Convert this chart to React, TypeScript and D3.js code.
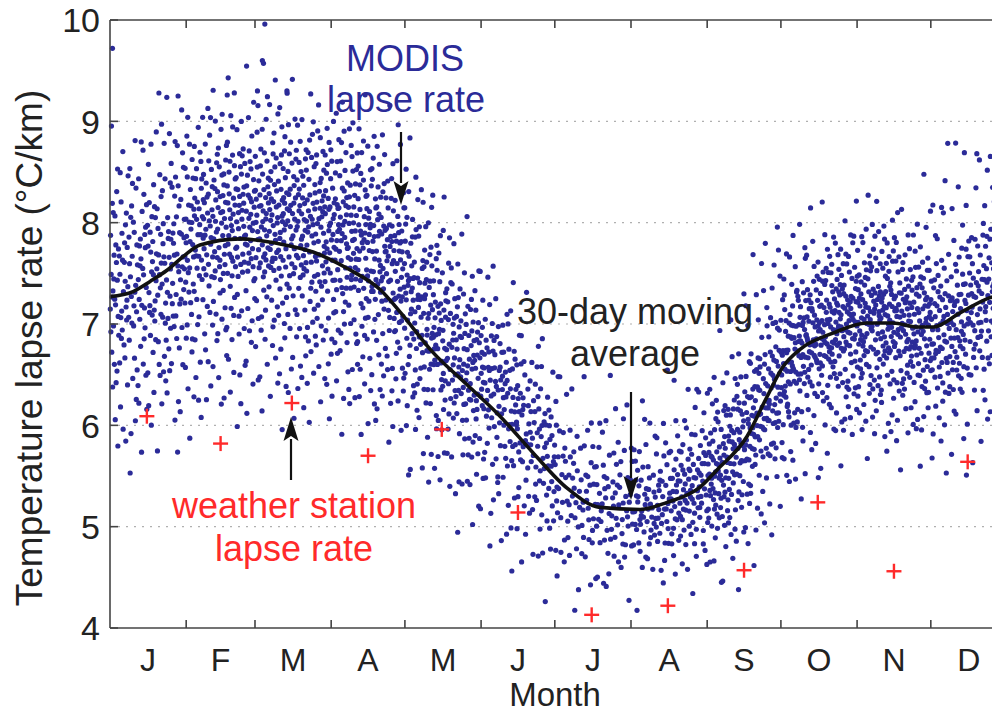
import React from "react";
import * as d3 from "d3";

// ---------- data ----------
const MONTH_LABELS = ["J", "F", "M", "A", "M", "J", "J", "A", "S", "O", "N", "D"];
const MONTH_STARTS = [0, 31, 59, 90, 120, 151, 181, 212, 243, 273, 304, 334, 365];
const Y_TICKS = [4, 5, 6, 7, 8, 9, 10];
const GRID_VALUES = [5, 6, 7, 8, 9];

// 30-day moving average (day of year, °C/km)
const MA_DAY = [0, 9.4, 16.3, 23.2, 30.5, 36.6, 52.9, 69.2, 82.6, 96.4, 109.9, 118, 131.4, 145.3, 158.7, 172.1, 186, 199.4, 215.7, 226.7, 240.1, 247, 259.2, 267.3, 273.9, 280.8, 294.2, 308, 318.6, 328.4, 334.9, 345.9, 358.1, 365];
const MA_VAL = [7.27, 7.32, 7.42, 7.53, 7.68, 7.78, 7.84, 7.79, 7.71, 7.55, 7.34, 7.12, 6.72, 6.4, 6.09, 5.73, 5.38, 5.19, 5.17, 5.24, 5.39, 5.56, 5.89, 6.28, 6.58, 6.75, 6.91, 7.01, 7.01, 6.97, 6.97, 7.11, 7.26, 7.3];

// weather station monthly lapse rate
const STATION_DAY = [15, 45, 74, 105, 135, 166, 196, 227, 258, 288, 319, 349];
const STATION_VAL = [6.09, 5.82, 6.22, 5.7, 5.96, 5.14, 4.13, 4.22, 4.57, 5.24, 4.56, 5.64];

// MODIS daily lapse rate cloud, summarised per half month (point count and quantiles)
const BIN_COUNT = [120, 130, 150, 160, 170, 170, 170, 165, 150, 140, 120, 100, 70, 75, 90, 110, 140, 150, 160, 170, 170, 160, 140, 130];
const Q02 = [5.8, 6.0, 6.2, 6.3, 6.3, 6.3, 6.2, 6.0, 5.6, 5.2, 4.9, 4.6, 4.4, 4.4, 4.5, 4.55, 4.6, 5.0, 5.6, 5.9, 5.9, 5.9, 5.7, 6.0];
const Q10 = [6.3, 6.5, 6.8, 6.9, 6.9, 6.8, 6.7, 6.5, 6.1, 5.7, 5.4, 5.0, 4.7, 4.7, 4.8, 4.85, 5.0, 5.5, 6.1, 6.3, 6.3, 6.3, 6.3, 6.5];
const Q25 = [6.9, 7.0, 7.4, 7.5, 7.5, 7.4, 7.3, 7.1, 6.6, 6.2, 5.9, 5.4, 5.0, 4.95, 5.0, 5.1, 5.3, 5.9, 6.5, 6.7, 6.7, 6.65, 6.6, 6.9];
const Q50 = [7.4, 7.5, 7.9, 7.95, 7.95, 7.9, 7.8, 7.6, 7.0, 6.6, 6.3, 5.8, 5.3, 5.2, 5.2, 5.35, 5.6, 6.2, 6.8, 7.0, 7.05, 7.0, 6.95, 7.25];
const Q75 = [7.9, 8.0, 8.3, 8.35, 8.35, 8.3, 8.2, 8.0, 7.4, 7.0, 6.6, 6.1, 5.6, 5.5, 5.45, 5.6, 5.9, 6.6, 7.1, 7.3, 7.35, 7.3, 7.3, 7.6];
const Q90 = [8.4, 8.5, 8.7, 8.7, 8.75, 8.7, 8.6, 8.4, 7.8, 7.3, 6.9, 6.4, 5.9, 5.8, 5.75, 5.9, 6.2, 7.0, 7.4, 7.6, 7.7, 7.6, 7.7, 8.0];
const Q98 = [8.8, 9.0, 9.1, 9.2, 9.2, 9.0, 9.0, 8.8, 8.3, 7.7, 7.3, 6.8, 6.3, 6.2, 6.1, 6.3, 6.6, 7.8, 7.8, 7.9, 8.0, 7.95, 8.5, 8.8];

// isolated high points
const OUTLIER_DAY = [1, 27.7, 47.7, 60, 62, 63, 72];
const OUTLIER_VAL = [9.72, 9.25, 9.26, 9.3, 9.6, 9.96, 9.3];

// ---------- layout ----------
const W = 992;
const H = 713;
const X0 = 110;
const X1 = 1007;
const Y_TOP = 20;
const Y_BOT = 628;
const FONT = "'Liberation Sans', Arial, Helvetica, sans-serif";
const BLUE = "#2b2b98";
const RED = "#ff2a2a";

const x = d3.scaleLinear().domain([0, 365]).range([X0, X1]);
const y = d3.scaleLinear().domain([4, 10]).range([Y_BOT, Y_TOP]);

function halton(i: number, b: number) {
  let f = 1, r = 0;
  while (i > 0) {
    f /= b;
    r += f * (i % b);
    i = Math.floor(i / b);
  }
  return r;
}

const PROBS = [0, 0.02, 0.1, 0.25, 0.5, 0.75, 0.9, 0.98, 1];
const BIN_W = 365 / 24;

function profileAt(day: number) {
  const t = day / BIN_W - 0.5;
  const i0 = Math.floor(t);
  const f = t - i0;
  const a = (i0 + 24) % 24;
  const b = (i0 + 1 + 24) % 24;
  const lerp = (arr: number[]) => arr[a] * (1 - f) + arr[b] * f;
  const q02 = lerp(Q02);
  const q98 = lerp(Q98);
  return [q02 - 0.35, q02, lerp(Q10), lerp(Q25), lerp(Q50), lerp(Q75), lerp(Q90), q98, q98 + 0.4];
}

function buildPoints() {
  const pts: [number, number][] = [];
  let k = 1;
  BIN_COUNT.forEach((n, b) => {
    for (let i = 0; i < n; i++) {
      const day = (b + halton(k, 2)) * BIN_W;
      const p = halton(k, 3);
      const qs = profileAt(day);
      const qf = d3.scaleLinear().domain(PROBS).range(qs);
      pts.push([day, qf(p)]);
      k++;
    }
  });
  OUTLIER_DAY.forEach((d, i) => pts.push([d, OUTLIER_VAL[i]]));
  return pts.filter((p) => p[1] >= 4 && p[1] <= 10);
}

function Arrow({ x0, yFrom, yTip }: { x0: number; yFrom: number; yTip: number }) {
  const dir = yTip > yFrom ? 1 : -1;
  const len = 24;
  const hw = 7.5;
  const back = yTip - dir * len;
  const notch = yTip - dir * (len - 5);
  return (
    <g>
      <line x1={x0} x2={x0} y1={yFrom} y2={back + dir * 2} stroke="#111" strokeWidth={2.2} />
      <path d={`M${x0},${yTip} L${x0 - hw},${back} L${x0},${notch} L${x0 + hw},${back} Z`} fill="#111" />
    </g>
  );
}

export default function App() {
  const points = React.useMemo(buildPoints, []);
  const line = d3
    .line<number>()
    .x((_, i) => x(MA_DAY[i]))
    .y((v) => y(v))
    .curve(d3.curveMonotoneX);
  const maPath = line(MA_VAL) || "";

  return (
    <svg width={W} height={H} style={{ position: "absolute", left: 0, top: 0, background: "#fff" }} fontFamily={FONT}>
      <rect width={W} height={H} fill="#fff" />
      {/* grid */}
      {GRID_VALUES.map((v) => (
        <line key={v} x1={X0} x2={W} y1={y(v)} y2={y(v)} stroke="#b0b0b0" strokeWidth={1.2} strokeDasharray="2,6" />
      ))}
      {/* scatter */}
      <g fill={BLUE}>
        {points.map((p, i) => (
          <circle key={i} cx={x(p[0])} cy={y(p[1])} r={2.6} />
        ))}
      </g>
      {/* moving average */}
      <path d={maPath} fill="none" stroke="#111" strokeWidth={3.6} strokeLinejoin="round" />
      {/* weather station crosses */}
      <g stroke={RED} strokeWidth={2.4}>
        {STATION_DAY.map((d, i) => {
          const cx = x(d), cy = y(STATION_VAL[i]);
          return (
            <g key={i}>
              <line x1={cx - 7.5} x2={cx + 7.5} y1={cy} y2={cy} />
              <line x1={cx} x2={cx} y1={cy - 7.5} y2={cy + 7.5} />
            </g>
          );
        })}
      </g>
      {/* axes frame */}
      <g stroke="#444" strokeWidth={1.6} fill="none">
        <line x1={X0} x2={X0} y1={Y_TOP} y2={Y_BOT} />
        <line x1={X0} x2={W} y1={Y_BOT} y2={Y_BOT} />
        <line x1={X0} x2={W} y1={Y_TOP} y2={Y_TOP} />
        {MONTH_STARTS.slice(1, 12).map((d) => (
          <g key={d}>
            <line x1={x(d)} x2={x(d)} y1={Y_BOT} y2={Y_BOT - 8} />
            <line x1={x(d)} x2={x(d)} y1={Y_TOP} y2={Y_TOP + 8} />
          </g>
        ))}
        {Y_TICKS.map((v) => (
          <line key={v} x1={X0} x2={X0 + 8} y1={y(v)} y2={y(v)} />
        ))}
      </g>
      {/* y tick labels */}
      <g fontSize={34} fill="#222" textAnchor="end">
        {Y_TICKS.map((v) => (
          <text key={v} x={X0 - 10} y={y(v)} dy="0.36em">
            {v}
          </text>
        ))}
      </g>
      {/* month labels */}
      <g fontSize={32} fill="#222" textAnchor="middle">
        {MONTH_LABELS.map((m, i) => (
          <text key={i} x={x((MONTH_STARTS[i] + MONTH_STARTS[i + 1]) / 2)} y={671}>
            {m}
          </text>
        ))}
      </g>
      <text x={555} y={706} fontSize={33} fill="#222" textAnchor="middle">
        Month
      </text>
      <text transform="translate(42,348) rotate(-90)" fontSize={37} fill="#222" textAnchor="middle">
        Temperature lapse rate (°C/km)
      </text>
      {/* annotations */}
      <g fontSize={36} fill={BLUE} textAnchor="middle">
        <text x={405} y={71}>MODIS</text>
        <text x={406} y={112}>lapse rate</text>
      </g>
      <g fontSize={36} fill="#222" textAnchor="middle">
        <text x={635} y={324}>30-day moving</text>
        <text x={635} y={366}>average</text>
      </g>
      <g fontSize={36} fill={RED} textAnchor="middle">
        <text x={294} y={518}>weather station</text>
        <text x={294} y={561}>lapse rate</text>
      </g>
      <Arrow x0={401} yFrom={132} yTip={205} />
      <Arrow x0={631} yFrom={392} yTip={500} />
      <Arrow x0={291} yFrom={480} yTip={417} />
    </svg>
  );
}
